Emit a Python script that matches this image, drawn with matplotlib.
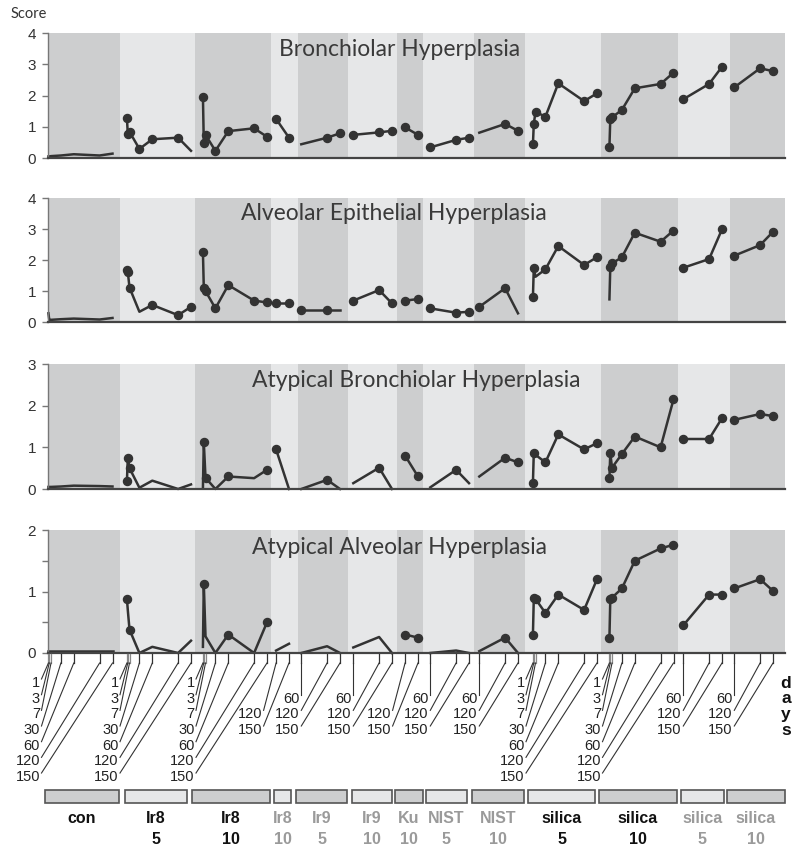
import numpy as np
import matplotlib
matplotlib.use('Agg')
import matplotlib.pyplot as plt
from matplotlib.patches import Rectangle

# sampling days per group
full = [1, 3, 7, 30, 60, 120, 150]
mid = [60, 120, 150]
late = [120, 150]

group_names = ['con', 'Ir8', 'Ir8', 'Ir8', 'Ir9', 'Ir9', 'Ku', 'NIST', 'NIST',
               'silica', 'silica', 'silica', 'silica']
group_doses = ['', '5', '10', '10', '5', '10', '10', '5', '10', '5', '10', '5', '10']
group_days = [full, full, full, late, mid, mid, late, mid, mid, full, full, mid, mid]
group_black = [1, 1, 1, 0, 0, 0, 0, 0, 0, 1, 1, 0, 0]

panel_titles = ['Bronchiolar Hyperplasia', 'Alveolar Epithelial Hyperplasia',
                'Atypical Bronchiolar Hyperplasia', 'Atypical Alveolar Hyperplasia']
panel_ymax = [4, 4, 3, 2]

bronch = [
    [0.05, 0.05, 0.06, 0.08, 0.12, 0.08, 0.14],
    [1.27, 0.78, 0.84, 0.29, 0.60, 0.65, 0.23],
    [1.96, 0.49, 0.74, 0.23, 0.86, 0.95, 0.68],
    [1.25, 0.65],
    [0.44, 0.65, 0.79],
    [0.74, 0.82, 0.87],
    [0.98, 0.74],
    [0.34, 0.58, 0.65],
    [0.81, 1.09, 0.87],
    [0.44, 1.09, 1.48, 1.32, 2.39, 1.82, 2.07],
    [0.36, 1.25, 1.30, 1.54, 2.23, 2.37, 2.73],
    [1.88, 2.37, 2.92],
    [2.26, 2.87, 2.78],
]
bronch_sig = [
    [0, 0, 0, 0, 0, 0, 0],
    [1, 1, 1, 1, 1, 1, 0],
    [1, 1, 1, 1, 1, 1, 1],
    [1, 1],
    [0, 1, 1],
    [1, 1, 1],
    [1, 1],
    [1, 1, 1],
    [0, 1, 1],
    [1, 1, 1, 1, 1, 1, 1],
    [1, 1, 1, 1, 1, 1, 1],
    [1, 1, 1],
    [1, 1, 1],
]

alveolar = [
    [0.28, 0.06, 0.07, 0.09, 0.11, 0.08, 0.13],
    [1.69, 1.62, 1.11, 0.33, 0.55, 0.22, 0.49],
    [2.25, 1.11, 1.00, 0.44, 1.19, 0.69, 0.63],
    [0.60, 0.60],
    [0.40, 0.40, 0.40],
    [0.69, 1.03, 0.60],
    [0.69, 0.74],
    [0.44, 0.30, 0.33],
    [0.49, 1.09, 0.28],
    [0.80, 1.75, 1.46, 1.70, 2.45, 1.84, 2.09],
    [0.73, 1.76, 1.89, 2.09, 2.88, 2.59, 2.95],
    [1.75, 2.03, 2.99],
    [2.14, 2.48, 2.91],
]
alveolar_sig = [
    [0, 0, 0, 0, 0, 0, 0],
    [1, 1, 1, 0, 1, 1, 1],
    [1, 1, 1, 1, 1, 1, 1],
    [1, 1],
    [1, 1, 0],
    [1, 1, 1],
    [1, 1],
    [1, 1, 1],
    [1, 1, 0],
    [1, 1, 0, 1, 1, 1, 1],
    [0, 1, 1, 1, 1, 1, 1],
    [1, 1, 1],
    [1, 1, 1],
]

atyp_bronch = [
    [0.05, 0.05, 0.05, 0.06, 0.08, 0.07, 0.06],
    [0.19, 0.74, 0.50, 0.03, 0.20, 0.00, 0.11],
    [0.02, 1.13, 0.27, 0.00, 0.30, 0.26, 0.46],
    [0.95, 0.00],
    [0.00, 0.22, 0.00],
    [0.14, 0.51, 0.00],
    [0.80, 0.30],
    [0.04, 0.46, 0.14],
    [0.30, 0.75, 0.64],
    [0.15, 0.87, 0.82, 0.64, 1.31, 0.95, 1.10],
    [0.26, 0.87, 0.51, 0.84, 1.26, 1.00, 2.15],
    [1.20, 1.20, 1.70],
    [1.66, 1.80, 1.75],
]
atyp_bronch_sig = [
    [0, 0, 0, 0, 0, 0, 0],
    [1, 1, 1, 0, 0, 0, 0],
    [0, 1, 1, 0, 1, 0, 1],
    [1, 0],
    [0, 1, 0],
    [0, 1, 0],
    [1, 1],
    [0, 1, 0],
    [0, 1, 1],
    [1, 1, 0, 1, 1, 1, 1],
    [1, 1, 1, 1, 1, 1, 1],
    [1, 1, 1],
    [1, 1, 1],
]

atyp_alv = [
    [0.03, 0.03, 0.03, 0.03, 0.03, 0.03, 0.03],
    [0.88, 0.70, 0.38, 0.00, 0.10, 0.00, 0.20],
    [0.10, 1.13, 0.27, 0.00, 0.30, 0.00, 0.50],
    [0.04, 0.15],
    [0.00, 0.11, 0.00],
    [0.09, 0.26, 0.00],
    [0.30, 0.25],
    [0.00, 0.04, 0.00],
    [0.03, 0.25, 0.00],
    [0.30, 0.89, 0.88, 0.65, 0.95, 0.70, 1.20],
    [0.25, 0.87, 0.90, 1.05, 1.50, 1.70, 1.76],
    [0.45, 0.95, 0.95],
    [1.05, 1.20, 1.01],
]
atyp_alv_sig = [
    [0, 0, 0, 0, 0, 0, 0],
    [1, 0, 1, 0, 0, 0, 0],
    [0, 1, 0, 0, 1, 0, 1],
    [0, 0],
    [0, 0, 0],
    [0, 0, 0],
    [1, 1],
    [0, 0, 0],
    [0, 1, 0],
    [1, 1, 1, 1, 1, 1, 1],
    [1, 1, 1, 1, 1, 1, 1],
    [1, 1, 1],
    [1, 1, 1],
]

panel_data = [bronch, alveolar, atyp_bronch, atyp_alv]
panel_sig = [bronch_sig, alveolar_sig, atyp_bronch_sig, atyp_alv_sig]

# ---- layout (pixel units) ----
W, H = 800, 855
X0, X1 = 48, 785
k = 0.43  # px per day
day0 = [48, 126.5, 202.5, 224.5, 275.5, 327.5, 353.5, 404.5, 453.5, 532.5, 609, 657.5, 708.5]
edges = [48, 120, 195, 271, 298, 348, 397, 423, 474, 525, 601, 678, 730, 785]
boxes = [(45, 119), (125, 187), (192, 270), (274, 291), (296, 347), (352, 392), (395, 423),
         (426, 467), (472, 524), (528, 595), (599, 677), (681, 724), (727, 785)]
panel_px = [(33, 158), (198, 322), (364, 489), (530, 653)]
title_pos = [(400, 50), (394, 213), (416, 380), (400, 547)]

dark = '#cdcecf'
light = '#e6e7e8'
ink = '#333333'
narrow = ['Liberation Sans Narrow', 'Liberation Sans', 'DejaVu Sans']
geo = ['Lato', 'DejaVu Sans']


def xpos(g, d):
    return day0[g] + k * np.asarray(d, dtype=float)


fig = plt.figure(figsize=(W / 100, H / 100), dpi=100)

for p, (top, bot) in enumerate(panel_px):
    ax = fig.add_axes([X0 / W, 1 - bot / H, (X1 - X0) / W, (bot - top) / H])
    ax.set_xlim(X0, X1)
    ax.set_ylim(0, panel_ymax[p])
    for g in range(len(group_names)):
        ax.axvspan(edges[g], edges[g + 1], color=dark if g % 2 == 0 else light, lw=0, zorder=0)
    for g in range(len(group_names)):
        x = xpos(g, group_days[g])
        y = np.array(panel_data[p][g])
        s = np.array(panel_sig[p][g], dtype=bool)
        ax.plot(x, y, color=ink, lw=1.8, zorder=2, clip_on=False)
        ax.plot(x[s], y[s], 'o', color=ink, ms=5.8, zorder=3, clip_on=False)
    for sp in ['top', 'right']:
        ax.spines[sp].set_visible(False)
    ax.spines['left'].set_color('#777777')
    ax.spines['left'].set_linewidth(1)
    ax.spines['bottom'].set_color('#444444')
    ax.spines['bottom'].set_linewidth(1.6)
    ax.spines['bottom'].set_zorder(5)
    ax.set_xticks([])
    ax.set_yticks(range(panel_ymax[p] + 1))
    if p == 3:
        ax.set_yticks([0.5, 1.5], minor=True)
    ax.tick_params(axis='y', which='both', length=4.5, width=1, color='#777777',
                   pad=4, labelsize=11, labelcolor=ink)
    for lab in ax.get_yticklabels():
        lab.set_family(['Liberation Sans', 'DejaVu Sans'])

# overlay in pixel coordinates for titles, day labels and group boxes
ov = fig.add_axes([0, 0, 1, 1])
ov.set_xlim(0, W)
ov.set_ylim(H, 0)
ov.axis('off')
ov.patch.set_visible(False)

ov.text(29, 14, 'Score', ha='center', va='center', fontsize=10.5, color=ink, family=geo)
for p, t in enumerate(panel_titles):
    ov.text(title_pos[p][0], title_pos[p][1], t, ha='center', va='center',
            fontsize=16.5, color='#3a3a3a', family=geo)

axis_y = panel_px[3][1]
for g, days in enumerate(group_days):
    n = len(days)
    if n == 7:
        xl = day0[g] - 8
    elif n == 3:
        xl = day0[g] + k * 60 - 1.5
    else:
        xl = day0[g] + k * 120 - 14
    for j, d in enumerate(days):
        row = j if n == 7 else j + 4 - n
        yl = 683 + 15.67 * row
        xt = xpos(g, d)
        col = '#888888' if d < 10 else '#333333'
        ov.plot([xt, xt], [axis_y + 1, 663], color=col, lw=0.9)
        ov.plot([xt, xl + 1.5], [663, yl - 4], color='#333333', lw=0.8)
        ov.text(xl, yl, str(d), ha='right', va='center', fontsize=10.5,
                color='#222222', family=narrow)

for i, ch in enumerate('days'):
    ov.text(786, 683 + 15.67 * i, ch, ha='center', va='center', fontsize=12.5,
            fontweight='bold', color='#111111', family=['Liberation Sans', 'DejaVu Sans'])

for g, (a, b) in enumerate(boxes):
    ov.add_patch(Rectangle((a, 790), b - a, 13, facecolor=dark if g % 2 == 0 else light,
                           edgecolor='#555555', lw=1.2))
    cx = (a + b) / 2
    col = '#111111' if group_black[g] else '#9a9a9a'
    ov.text(cx, 818, group_names[g], ha='center', va='center', fontsize=11.5,
            fontweight='bold', color=col, family=narrow)
    if group_doses[g]:
        ov.text(cx, 839, group_doses[g], ha='center', va='center', fontsize=11.5,
                fontweight='bold', color=col, family=narrow)

fig.savefig('out.png', dpi=100)
